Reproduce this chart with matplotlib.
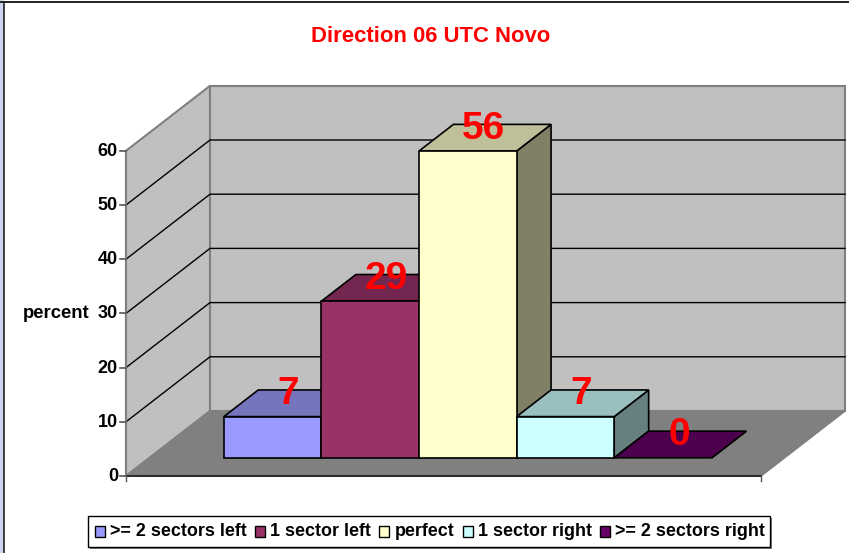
import matplotlib
matplotlib.use("Agg")
import matplotlib.pyplot as plt
from matplotlib.patches import Polygon, Rectangle

plt.rcParams["font.family"] = ["Liberation Sans", "DejaVu Sans"]

title = "Direction 06 UTC Novo"
series_names = [">= 2 sectors left", "1 sector left", "perfect", "1 sector right", ">= 2 sectors right"]
bar_values = [7.6, 28.9, 56.6, 7.6, 0]
bar_labels = ["7", "29", "56", "7", "0"]
y_ticks = [0, 10, 20, 30, 40, 50, 60]
front_colors = ["#9999ff", "#993366", "#ffffcc", "#ccffff", "#660066"]
top_colors = ["#7575bd", "#732650", "#bfbf99", "#99bfbf", "#4d004d"]
side_colors = ["#4d4d80", "#4d1a33", "#808066", "#668080", "#330033"]

# chart box in pixels, the 3d look is just a shear
X0, Y0 = 126, 476
X1 = 761
PX_PER_UNIT = 5.42
DEPTH_X, DEPTH_Y = 84, -65
BAR_W = 97.6
BAR_X0 = 74.3
BAR_D0, BAR_D1 = 0.28, 0.69


def proj(x, v, d=0.0):
    return X0 + x + d * DEPTH_X, Y0 - v * PX_PER_UNIT + d * DEPTH_Y


def face(ax, pts, color, edge="black", lw=1.2, z=2):
    ax.add_patch(Polygon(pts, closed=True, facecolor=color, edgecolor=edge, linewidth=lw,
                         joinstyle="miter", zorder=z))


fig = plt.figure(figsize=(8.49, 5.53), dpi=100)
ax = fig.add_axes([0, 0, 1, 1])
ax.set_xlim(0, 849)
ax.set_ylim(553, 0)
ax.axis("off")

# window frame left over from the screenshot
ax.add_patch(Rectangle((0, 0), 4, 553, facecolor="#ccd6f0", edgecolor="none"))
ax.plot([4.5, 4.5], [2, 553], color="#222222", lw=1.2)
ax.plot([0, 849], [1.5, 1.5], color="#222222", lw=1.4)

width = X1 - X0
top = y_ticks[-1]

# walls and floor
face(ax, [proj(0, 0), proj(0, top), proj(0, top, 1), proj(0, 0, 1)], "#c0c0c0", "#808080", 1.5, 1)
face(ax, [proj(0, 0, 1), proj(0, top, 1), proj(width, top, 1), proj(width, 0, 1)], "#c0c0c0", "#808080", 1.5, 1)
face(ax, [proj(0, 0), proj(0, 0, 1), proj(width, 0, 1), proj(width, 0)], "#808080", "#808080", 1.2, 1)
ax.plot(*zip(proj(0, 0), proj(width, 0)), color="#222222", lw=1.3, zorder=1.5)

for t in y_ticks[1:-1]:
    ax.plot(*zip(proj(0, t), proj(0, t, 1), proj(width, t, 1)), color="black", lw=1.0, zorder=1.5)

# axis ticks and labels
ax.plot(*zip(proj(0, 0), proj(0, top)), color="#808080", lw=1.5, zorder=1.5)
for t in y_ticks:
    x, y = proj(0, t)
    ax.plot([x - 6, x], [y, y], color="#555555", lw=1.2)
    ax.text(x - 8, y + 0.5, str(t), ha="right", va="center", fontsize=13, fontweight="bold", color="black")
for xp in [0, width]:
    x, y = proj(xp, 0)
    ax.plot([x, x], [y, y + 5], color="#555555", lw=1.0)
ax.text(56, 314, "percent", ha="center", va="center", fontsize=13.3, fontweight="bold", color="black")

ax.text(431, 36, title, ha="center", va="center", fontsize=15.9, fontweight="bold", color="#ff0000")

# bars, left to right so the neighbours overlap the side faces
for i, v in enumerate(bar_values):
    l = BAR_X0 + i * BAR_W
    r = l + BAR_W
    z = 3 + i * 0.1
    face(ax, [proj(r, 0, BAR_D0), proj(r, v, BAR_D0), proj(r, v, BAR_D1), proj(r, 0, BAR_D1)], side_colors[i], z=z)
    face(ax, [proj(l, v, BAR_D0), proj(l, v, BAR_D1), proj(r, v, BAR_D1), proj(r, v, BAR_D0)], top_colors[i], z=z)
    if v > 0:
        face(ax, [proj(l, 0, BAR_D0), proj(l, v, BAR_D0), proj(r, v, BAR_D0), proj(r, 0, BAR_D0)], front_colors[i], z=z)

for i, v in enumerate(bar_values):
    cx, cy = proj(BAR_X0 + (i + 0.5) * BAR_W, v, (BAR_D0 + BAR_D1) / 2)
    ax.text(cx - 1.2, cy - 9, bar_labels[i], ha="center", va="center", fontsize=28, fontweight="bold",
            color="#ff0000", zorder=6)

# legend drawn by hand to hold the spacing
ax.add_patch(Rectangle((90.5, 517.5), 682, 31, facecolor="#808080", edgecolor="none", zorder=7))
ax.add_patch(Rectangle((88.5, 515.5), 682, 31, facecolor="white", edgecolor="black", lw=1.0, zorder=8))
legend_x = [95.5, 255.5, 379.5, 463.5, 600.5]
for x, name, c in zip(legend_x, series_names, front_colors):
    ax.add_patch(Rectangle((x, 526), 10, 10.5, facecolor=c, edgecolor="black", lw=1.0, zorder=9))
    ax.text(x + 15, 531, name, ha="left", va="center", fontsize=12.85, fontweight="bold", color="black", zorder=9)

fig.savefig("out.png", dpi=100)
